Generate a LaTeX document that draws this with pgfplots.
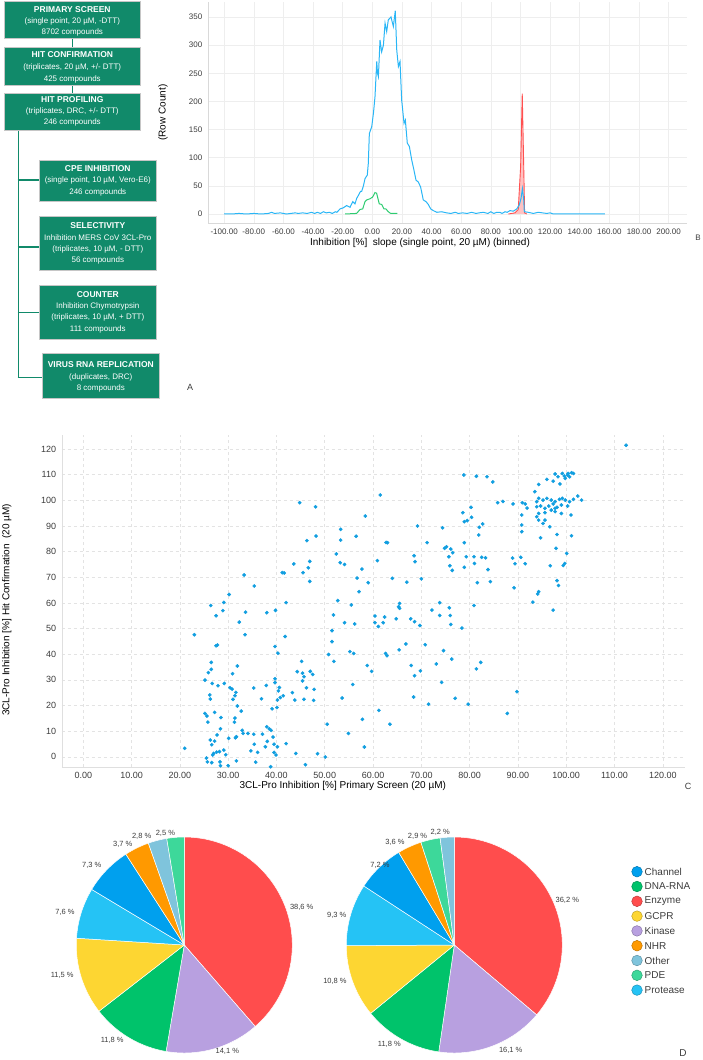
\documentclass[border=0pt]{standalone}
\usepackage{fontspec}
\setmainfont{Liberation Sans}
\usepackage{pgfplots}
\pgfplotsset{compat=1.18}
\definecolor{fcg}{RGB}{17,138,106}
\definecolor{hblue}{RGB}{41,182,246}
\definecolor{hgreen}{RGB}{46,204,113}
\definecolor{hred}{RGB}{255,80,80}
\definecolor{sblue}{RGB}{16,158,224}
\definecolor{cEnz}{RGB}{255,77,77}
\definecolor{cKin}{RGB}{184,160,224}
\definecolor{cDNA}{RGB}{0,195,107}
\definecolor{cGCPR}{RGB}{253,214,50}
\definecolor{cProt}{RGB}{37,195,245}
\definecolor{cChan}{RGB}{0,160,238}
\definecolor{cNHR}{RGB}{255,153,0}
\definecolor{cOth}{RGB}{127,196,220}
\definecolor{cPDE}{RGB}{61,216,154}
\definecolor{txt}{RGB}{60,60,60}
\newcommand{\fsz}[1]{\fontsize{#1}{#1}\selectfont}
\newcommand{\boxtitle}[3]{\node[text=white,font=\fsz{8.5}\bfseries] at (#1,#2) {#3};}
\newcommand{\boxsub}[3]{\node[text=white,font=\fsz{8}] at (#1,#2) {#3};}
\begin{document}
\begin{tikzpicture}
\path[use as bounding box] (0,0) rectangle (702pt,-1060pt);
\begin{scope}[x=1pt,y=-1pt]
% connectors
\draw[fcg,line width=1.6pt] (72.3,38) -- (72.3,48);
\draw[fcg,line width=1.6pt] (72.3,85) -- (72.3,93);
\draw[fcg,line width=1.6pt] (18.3,130) -- (18.3,377.3);
\foreach \yy/\xx in {180/39,246.7/39,312.3/39,377.3/42.3}
  \draw[fcg,line width=1.6pt] (17.5,\yy) -- (\xx,\yy);
% boxes
\foreach \a/\b/\c/\d in {4/1/140.7/38, 4/47.7/140.7/85, 4/93.3/140.7/130, 39/160/156.7/201, 39/216/156.7/270, 39/285.7/156.7/339, 42.3/353.3/159.3/398}
  \filldraw[fill=fcg,draw=gray!45,line width=0.8pt] (\a,\b) rectangle (\c,\d);
\boxtitle{72.3}{9.3}{PRIMARY SCREEN}
\boxsub{72.3}{21.7}{(single point, 20 µM, -DTT)}
\boxsub{72.3}{32.7}{8702 compounds}
\boxtitle{72.3}{55}{HIT CONFIRMATION}
\boxsub{72.3}{67.7}{(triplicates, 20 µM, +/- DTT)}
\boxsub{72.3}{79}{425 compounds}
\boxtitle{72.3}{99.3}{HIT PROFILING}
\boxsub{72.3}{111}{(triplicates, DRC, +/- DTT)}
\boxsub{72.3}{122.7}{246 compounds}
\boxtitle{97.8}{168.3}{CPE INHIBITION}
\boxsub{97.8}{180.7}{(single point, 10 µM, Vero-E6)}
\boxsub{97.8}{192.3}{246 compounds}
\boxtitle{97.8}{225.3}{SELECTIVITY}
\boxsub{97.8}{237.7}{Inhibition MERS CoV 3CL-Pro}
\boxsub{97.8}{249.3}{(triplicates, 10 µM, - DTT)}
\boxsub{97.8}{260.7}{56 compounds}
\boxtitle{97.8}{294.3}{COUNTER}
\boxsub{97.8}{306}{Inhibition Chymotrypsin}
\boxsub{97.8}{317.7}{(triplicates, 10 µM, + DTT)}
\boxsub{97.8}{329}{111 compounds}
\boxtitle{100.8}{365}{VIRUS RNA REPLICATION}
\boxsub{100.8}{377.3}{(duplicates, DRC)}
\boxsub{100.8}{388.7}{8 compounds}
% panel letters
\node[font=\fsz{9},text=txt] at (190,387.7) {A};
\node[font=\fsz{8},text=txt] at (698,237.7) {B};
\node[font=\fsz{9},text=txt] at (688,786) {C};
\node[font=\fsz{10},text=txt] at (683,1053) {D};
% legend
\foreach \cc/\nn [count=\i from 0] in {cChan/Channel,cDNA/DNA-RNA,cEnz/Enzyme,cGCPR/GCPR,cKin/Kinase,cNHR/NHR,cOth/Other,cPDE/PDE,cProt/Protease}{
  \filldraw[fill=\cc,draw=\cc!75!black,line width=0.5pt] (637,871.7+14.8*\i) circle (5.3);
  \node[anchor=west,font=\fsz{10},text=txt,inner sep=0] at (644.5,871.7+14.8*\i) {\nn};
}
\end{scope}

% ---------- B: histogram ----------
\begin{axis}[at={(208pt,-223pt)},anchor=south west,scale only axis,
  width=479pt,height=221pt,
  xmin=-110.9,xmax=212.4,ymin=-16,ymax=376.6,
  axis lines=left, axis line style={-,gray!30},
  xtick={-100,-80,...,200},
  xticklabels={-100.00,-80.00,-60.00,-40.00,-20.00,0.00,20.00,40.00,60.00,80.00,100.00,120.00,140.00,160.00,180.00,200.00},
  ytick={0,50,...,350},
  grid=major, grid style={gray!13,line width=0.5pt},
  tick style={draw=none},
  ticklabel style={font=\fsz{8},text=txt},
  yticklabel style={/pgf/number format/assume math mode=true},
  xlabel={Inhibition [\%]\ \ slope (single point, 20 µM) (binned)},
  ylabel={(Row Count)},
  xlabel style={font=\fsz{8},text=txt},
  ylabel style={font=\fsz{8},text=txt},
  every axis x label/.style={at={(axis description cs:0.4426,-0.09)},anchor=center},
  every axis y label/.style={at={(axis description cs:-0.094,0.5)},rotate=90,anchor=center},
  clip=false]
\addplot[hgreen,line width=1pt] coordinates {
(-18.4,0)(-10.6,1)(-8.3,8)(-6.5,9)(-4.9,22)(-3.8,25)(-1.6,27)(0.2,30)(1.8,38)(2.9,37)(4.7,18)(6.3,17)(7.9,9)(9.2,9)(10.8,4)(12.4,1)(16.9,1)};
\addplot[hred,line width=0.9pt,fill=hred!35] coordinates {
(91.8,0)(96.3,2)(98.5,8)(100.1,84)(101.2,214)(102.2,84)(102.8,2)(104.2,0)};
\addplot[hblue,line width=1pt] coordinates {
(-100,0)(-95,0)(-90,1)(-85,0)(-80,1)(-75,0)(-70,1)(-68,3)(-66,1)(-62,2)(-58,0)(-55,1)(-52,2)(-50,1)(-47,2)(-44,1)(-41,3)(-39,1)(-37,3)(-35,1)(-33,4)(-31,2)(-29,3)(-27,1)(-25,4)(-23.9,3)(-21.8,9)(-19.6,11)(-17.3,15)(-15,12)(-13.2,22)(-11.7,18)(-10.5,28)(-9.4,33)(-8,40)(-7.2,40)(-6,50)(-4.9,63)(-3.4,69)(-2.7,90)(-2.0,143)(-0.4,155)(0.8,180)(1.8,208)(3.0,271)(3.5,250)(4.1,244)(5.2,309)(6.3,288)(7.5,300)(8.6,339)(9.7,324)(10.8,345)(12.6,350)(14.2,333)(15.5,361)(16.5,291)(17.6,262)(18.7,271)(19.8,203)(21.4,161)(22.3,167)(23.6,126)(25.0,120)(26.6,96)(28.1,78)(29.5,60)(31.0,57)(32.6,48)(34.4,25)(36.2,22)(37.8,17)(39.4,9)(41.2,6)(43.5,3)(46.8,4)(50.2,2)(53,1)(56,3)(58,1)(61,2)(64,1)(67,3)(70,1)(72,2)(75,3)(78,1)(80,4)(82,1)(84,3)(86.2,3)(87.5,1)(89.6,4)(91,3)(92.9,6)(95.2,5)(97.5,9)(99.2,16)(100.4,28)(101.3,45)(102.2,25)(102.6,4)(105.3,3)(108.7,1)(112,3)(117.7,1)(120,2)(122.2,0)(157,0)};
\end{axis}

% ---------- C: scatter ----------
\begin{axis}[at={(61.7pt,-767pt)},anchor=south west,scale only axis,
  width=623.3pt,height=332pt,
  xmin=-4.47,xmax=124.6,ymin=-4,ymax=125.5,
  axis lines=left, axis line style={-,gray!25},
  xtick={0,10,...,120},
  xticklabels={0.00,10.00,20.00,30.00,40.00,50.00,60.00,70.00,80.00,90.00,100.00,110.00,120.00},
  ytick={0,10,...,120},
  grid=major, grid style={gray!22,dashed,line width=0.5pt},
  tick style={draw=none},
  ticklabel style={font=\fsz{9},text=txt},
  yticklabel style={/pgf/number format/assume math mode=true},
  xlabel={3CL-Pro Inhibition [\%] Primary Screen (20 µM)},
  ylabel={3CL-Pro Inhibition [\%] Hit Confirmation\ \ (20 µM)},
  xlabel style={font=\fsz{9.5},text=txt},
  ylabel style={font=\fsz{9.5},text=txt},
  every axis x label/.style={at={(axis description cs:0.451,-0.057)},anchor=center},
  every axis y label/.style={at={(axis description cs:-0.088,0.473)},rotate=90,anchor=center}]
\addplot[only marks,mark=*,mark size=1.65pt,sblue,mark options={draw=none,fill=sblue}] table {
x y
112.4 121.5
78.8 109.9
81.4 109.4
83.6 109.2
84.8 107.2
97.7 110.3
99.2 110.5
100.3 109.9
101.1 110.8
101.5 110.5
99.8 108.6
100.7 109.2
96.0 108.2
97.3 107.5
98.7 106.4
94.3 106.2
100.4 110.5
99.6 109.5
98.3 109.2
61.5 102.1
44.8 99.1
48.1 97.5
58.4 93.9
85.8 99.1
86.9 99.6
89.0 98.6
90.9 99.1
91.5 98.6
91.9 97.0
93.5 103.4
93.9 99.5
94.3 100.8
95.2 100.1
96.0 100.8
96.9 100.1
97.7 99.5
98.6 100.4
99.2 100.8
99.8 100.1
100.7 99.5
101.5 100.4
102.4 101.7
103.2 100.1
93.9 97.5
94.7 97.8
95.6 96.9
96.4 97.8
97.3 98.6
98.1 97.3
99.0 98.2
100.3 97.8
94.3 94.9
95.6 95.2
96.9 96.2
97.7 95.6
99.0 94.9
101.0 94.3
94.3 92.3
95.2 91.0
96.6 89.7
95.6 92.3
93.9 93.6
97.7 96.9
90.8 94.3
90.8 90.4
90.8 87.8
78.6 95.2
80.3 97.3
80.4 93.4
78.9 91.7
79.5 92.1
82.7 90.8
82.0 89.5
81.9 86.5
69.2 90.0
74.4 89.3
94.7 85.4
98.1 86.7
101.1 86.2
97.9 81.3
100.1 79.3
99.7 75.4
99.4 74.6
96.7 74.5
98.1 68.7
98.4 66.8
94.3 64.4
94.1 63.5
93.1 60.3
97.3 57.2
53.3 88.7
53.3 84.5
48.2 86.1
46.3 84.3
56.5 86.0
62.7 83.6
63.0 83.5
71.2 83.5
78.9 83.5
74.8 81.3
75.2 81.9
76.1 81.0
76.5 79.6
75.7 78.0
75.9 74.5
76.4 72.7
78.9 73.9
79.3 78.0
80.9 78.0
82.5 77.8
83.3 77.6
81.0 75.4
83.8 73.0
81.6 67.9
84.3 68.3
88.9 77.5
90.6 77.8
89.4 75.3
91.5 75.3
89.2 65.9
52.4 79.1
53.2 75.7
54.1 75.0
57.7 73.2
60.9 76.5
68.5 78.4
68.7 76.1
56.7 69.7
59.0 67.9
57.1 64.4
64.0 69.6
67.0 68.1
70.0 69.4
43.6 75.2
46.9 76.2
46.6 73.7
45.5 71.8
41.2 71.8
41.6 71.7
46.9 68.4
33.3 70.9
35.4 66.6
30.2 63.3
42.0 60.1
29.1 60.2
26.4 59.0
28.9 57.0
27.5 55.0
33.6 56.4
38.0 56.2
39.8 57.1
52.7 60.9
55.5 59.2
51.8 55.3
60.4 54.9
62.4 54.5
64.8 53.8
67.8 53.8
65.5 59.8
65.3 58.5
65.5 57.9
72.2 57.2
73.8 60.1
75.8 58.1
76.0 55.1
73.8 55.1
80.9 59.0
32.3 52.5
23.0 47.6
33.5 47.6
41.8 46.9
51.5 49.2
54.1 52.3
56.2 51.8
60.4 52.3
61.1 50.8
62.1 52.3
68.6 52.7
69.7 51.2
76.1 51.6
78.4 50.2
51.5 44.9
50.8 39.9
51.9 37.2
55.2 41.0
56.0 40.3
62.6 40.3
62.9 39.4
65.4 41.7
66.8 44.0
70.8 43.7
74.6 41.4
76.3 38.1
73.1 36.2
82.3 36.8
81.4 34.3
67.9 35.6
69.8 33.5
68.6 31.6
74.2 29.0
58.8 35.6
59.7 33.3
55.8 28.2
53.6 22.9
68.4 23.3
71.5 20.5
77.0 22.8
79.7 20.5
89.8 25.4
87.8 16.9
61.2 18.1
57.8 14.6
63.5 12.7
50.5 12.7
54.9 9.1
58.2 3.8
50.1 -0.1
48.5 1.2
39.7 43.0
40.3 40.4
39.7 30.4
39.7 28.9
40.6 27.0
40.4 25.7
41.4 23.8
40.8 23.1
40.2 22.1
40.1 19.2
39.1 18.7
37.9 27.8
35.3 26.8
36.9 22.6
43.3 25.0
43.8 22.1
45.7 22.4
47.7 22.0
46.2 26.9
47.8 26.3
45.4 29.6
45.7 31.2
44.3 33.2
45.4 32.6
47.0 33.3
47.5 32.1
45.2 37.2
27.5 43.3
27.8 43.6
26.5 36.8
26.5 34.1
25.9 32.8
25.2 29.9
31.9 35.4
30.9 32.4
26.7 28.6
27.9 27.7
29.2 28.6
30.4 26.9
30.8 26.4
31.6 25.1
31.4 23.8
31.0 22.4
26.2 24.1
26.3 22.5
31.9 19.8
32.7 17.8
25.2 16.9
25.6 15.9
27.2 17.3
28.5 15.3
25.8 13.5
31.4 15.1
31.3 13.5
28.4 10.9
38.0 11.7
38.5 10.9
38.9 10.3
34.1 9.1
35.3 8.8
37.1 8.8
32.9 10.3
33.1 9.1
31.5 7.4
31.7 7.8
30.1 7.2
27.7 8.5
26.3 6.5
27.2 6.1
26.6 4.7
35.4 4.9
37.7 3.9
38.1 6.0
39.3 7.7
39.5 4.9
40.2 3.9
42.0 5.1
34.7 2.3
36.1 1.7
39.5 1.7
39.9 0.7
44.0 1.3
29.1 2.6
29.5 0.8
27.0 1.3
27.6 1.8
28.2 2.0
26.8 0.7
25.5 -0.5
21.0 3.3
26.6 -2.3
25.7 -2.0
28.3 -2.0
28.4 -3.5
30.0 -3.5
31.7 -1.6
35.7 -2.1
38.8 -3.9
46.0 -3.1
};
\end{axis}

% ---------- D: pies ----------
\pgfplotsset{pie/.style={scale only axis,width=216pt,height=216pt,xmin=-1,xmax=1,ymin=-1,ymax=1,hide axis,clip=false},
  wedge/.style={draw=white,line width=0.5pt,fill=#1,samples=60}}
\begin{axis}[pie,at={(184.3pt,-945pt)},anchor=center]
\addplot[wedge=cEnz,domain=-48.96:90] ({cos(x)},{sin(x)}) -- (axis cs:0,0) -- cycle;
\addplot[wedge=cKin,domain=-99.72:-48.96] ({cos(x)},{sin(x)}) -- (axis cs:0,0) -- cycle;
\addplot[wedge=cDNA,domain=-142.2:-99.72] ({cos(x)},{sin(x)}) -- (axis cs:0,0) -- cycle;
\addplot[wedge=cGCPR,domain=-183.6:-142.2] ({cos(x)},{sin(x)}) -- (axis cs:0,0) -- cycle;
\addplot[wedge=cProt,domain=-210.96:-183.6] ({cos(x)},{sin(x)}) -- (axis cs:0,0) -- cycle;
\addplot[wedge=cChan,domain=-237.24:-210.96] ({cos(x)},{sin(x)}) -- (axis cs:0,0) -- cycle;
\addplot[wedge=cNHR,domain=-250.56:-237.24] ({cos(x)},{sin(x)}) -- (axis cs:0,0) -- cycle;
\addplot[wedge=cOth,domain=-260.64:-250.56] ({cos(x)},{sin(x)}) -- (axis cs:0,0) -- cycle;
\addplot[wedge=cPDE,domain=-270:-260.64] ({cos(x)},{sin(x)}) -- (axis cs:0,0) -- cycle;
\begin{scope}[every node/.style={font=\fsz{7.5},text=txt,inner sep=0}]
\node at (axis cs:1.087,0.352) {38,6 \%};
\node at (axis cs:0.398,-0.988) {14,1 \%};
\node at (axis cs:-0.667,-0.886) {11,8 \%};
\node at (axis cs:-1.13,-0.284) {11,5 \%};
\node at (axis cs:-1.105,0.303) {7,6 \%};
\node at (axis cs:-0.857,0.734) {7,3 \%};
\node at (axis cs:-0.570,0.935) {3,7 \%};
\node at (axis cs:-0.395,1.003) {2,8 \%};
\node at (axis cs:-0.175,1.030) {2,5 \%};
\end{scope}
\end{axis}
\begin{axis}[pie,at={(454.3pt,-945pt)},anchor=center]
\addplot[wedge=cEnz,domain=-40.32:90] ({cos(x)},{sin(x)}) -- (axis cs:0,0) -- cycle;
\addplot[wedge=cKin,domain=-98.28:-40.32] ({cos(x)},{sin(x)}) -- (axis cs:0,0) -- cycle;
\addplot[wedge=cDNA,domain=-140.76:-98.28] ({cos(x)},{sin(x)}) -- (axis cs:0,0) -- cycle;
\addplot[wedge=cGCPR,domain=-179.64:-140.76] ({cos(x)},{sin(x)}) -- (axis cs:0,0) -- cycle;
\addplot[wedge=cProt,domain=-213.12:-179.64] ({cos(x)},{sin(x)}) -- (axis cs:0,0) -- cycle;
\addplot[wedge=cChan,domain=-239.04:-213.12] ({cos(x)},{sin(x)}) -- (axis cs:0,0) -- cycle;
\addplot[wedge=cNHR,domain=-252:-239.04] ({cos(x)},{sin(x)}) -- (axis cs:0,0) -- cycle;
\addplot[wedge=cPDE,domain=-262.44:-252] ({cos(x)},{sin(x)}) -- (axis cs:0,0) -- cycle;
\addplot[wedge=cOth,domain=-270:-262.44] ({cos(x)},{sin(x)}) -- (axis cs:0,0) -- cycle;
\begin{scope}[every node/.style={font=\fsz{7.5},text=txt,inner sep=0}]
\node at (axis cs:1.046,0.41) {36,2 \%};
\node at (axis cs:0.522,-0.972) {16,1 \%};
\node at (axis cs:-0.602,-0.917) {11,8 \%};
\node at (axis cs:-1.105,-0.34) {10,8 \%};
\node at (axis cs:-1.089,0.278) {9,3 \%};
\node at (axis cs:-0.688,0.741) {7,2 \%};
\node at (axis cs:-0.55,0.947) {3,6 \%};
\node at (axis cs:-0.34,1.009) {2,9 \%};
\node at (axis cs:-0.13,1.040) {2,2 \%};
\end{scope}
\end{axis}
\end{tikzpicture}
\end{document}
